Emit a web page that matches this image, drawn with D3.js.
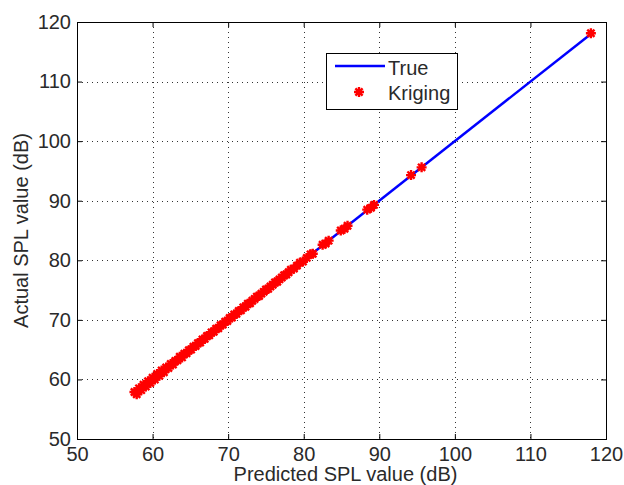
<!DOCTYPE html>
<html>
<head>
  <meta charset="utf-8">
  <style>
    body { margin: 0; background: #fff; }
    svg text { font-family: "Liberation Sans", Arial, sans-serif; fill: #2a2a2a; }
    .tick text { font-size: 20px; }
    .grid line { stroke: #333; stroke-width: 1px; stroke-dasharray: 1,4; }
    .axis path, .axis line { stroke: #000; }
  </style>
</head>
<body>
<script src="https://cdn.jsdelivr.net/npm/d3@7"></script>
<script>
  // values
  var predicted = [57.6, 57.9, 58.2, 58.5, 58.8, 59.1, 59.4, 59.7, 60.0, 60.3, 60.6, 60.9,
    61.2, 61.5, 61.8, 62.1, 62.4, 62.7, 63.0, 63.3, 63.6, 63.9, 64.2, 64.5, 64.8, 65.1,
    65.4, 65.7, 66.0, 66.3, 66.6, 66.9, 67.2, 67.5, 67.8, 68.1, 68.4, 68.7, 69.0, 69.3,
    69.6, 69.9, 70.2, 70.5, 70.8, 71.1, 71.4, 71.7, 72.0, 72.3, 72.6, 72.9, 73.2, 73.5,
    73.8, 74.1, 74.4, 74.7, 75.0, 75.3, 75.6, 75.9, 76.2, 76.5, 76.8, 77.1, 77.4, 77.7,
    78.0, 78.3, 78.7, 79.1, 79.5, 79.9, 80.4, 80.9, 81.2, 82.5, 82.9, 83.3, 84.9, 85.4,
    85.8, 88.4, 88.9, 89.3, 94.2, 95.6, 118.0];
  var actual = [57.9, 57.5, 58.5, 58.2, 59.1, 58.8, 59.7, 59.4, 60.3, 60.0, 60.9, 60.6,
    61.5, 61.2, 62.0, 61.9, 62.6, 62.5, 63.1, 63.2, 63.8, 63.7, 64.3, 64.4, 64.9, 65.0,
    65.5, 65.6, 66.1, 66.2, 66.7, 66.8, 67.3, 67.4, 67.9, 68.0, 68.5, 68.6, 69.1, 69.2,
    69.7, 69.8, 70.3, 70.4, 70.9, 71.0, 71.5, 71.6, 72.1, 72.2, 72.7, 72.8, 73.2, 73.5,
    73.9, 74.0, 74.4, 74.7, 75.1, 75.2, 75.6, 75.9, 76.3, 76.4, 76.8, 77.1, 77.5, 77.6,
    78.0, 78.4, 78.6, 79.1, 79.6, 79.8, 80.4, 81.0, 81.1, 82.6, 82.8, 83.3, 85.0, 85.3,
    85.8, 88.5, 88.8, 89.3, 94.3, 95.6, 118.1];
  var trueLine = [57.5, 118.0];
  var xTicks = [50, 60, 70, 80, 90, 100, 110, 120];
  var yTicks = [50, 60, 70, 80, 90, 100, 110, 120];

  var W = 624, H = 485;
  var pLeft = 77, pRight = 606, pTop = 22, pBottom = 439;

  var svg = d3.select("body").append("svg")
      .attr("width", W)
      .attr("height", H);

  var x = d3.scaleLinear().domain([50, 120]).range([pLeft, pRight]);
  var y = d3.scaleLinear().domain([50, 120]).range([pBottom, pTop]);

  // dotted grid
  var grid = svg.append("g").classed("grid", true);
  grid.selectAll("line.v").data(xTicks.slice(1, -1)).enter().append("line")
      .attr("x1", d => Math.round(x(d)) + 0.5).attr("x2", d => Math.round(x(d)) + 0.5)
      .attr("y1", pTop).attr("y2", pBottom);
  grid.selectAll("line.h").data(yTicks.slice(1, -1)).enter().append("line")
      .attr("y1", d => Math.round(y(d)) + 0.5).attr("y2", d => Math.round(y(d)) + 0.5)
      .attr("x1", pLeft).attr("x2", pRight);

  // axes, ticks pointing inward on all four sides
  svg.append("g").classed("axis", true)
      .attr("transform", "translate(0," + pBottom + ")")
      .call(d3.axisBottom(x).tickValues(xTicks).tickSize(-5).tickPadding(9).tickSizeOuter(0))
      .selectAll(".tick text").attr("y", 8).attr("dy", "0.71em");
  svg.append("g").classed("axis", true)
      .attr("transform", "translate(0," + pTop + ")")
      .call(d3.axisTop(x).tickValues(xTicks).tickSize(-5).tickFormat("").tickSizeOuter(0));
  svg.append("g").classed("axis", true)
      .attr("transform", "translate(" + pLeft + ",0)")
      .call(d3.axisLeft(y).tickValues(yTicks).tickSize(-5).tickPadding(6).tickSizeOuter(0))
      .selectAll(".tick text").attr("x", -6);
  svg.append("g").classed("axis", true)
      .attr("transform", "translate(" + pRight + ",0)")
      .call(d3.axisRight(y).tickValues(yTicks).tickSize(-5).tickFormat("").tickSizeOuter(0));

  svg.selectAll(".axis .domain").remove();
  svg.append("rect")
      .attr("x", pLeft + 0.5).attr("y", pTop + 0.5)
      .attr("width", pRight - pLeft).attr("height", pBottom - pTop)
      .style("fill", "none").style("stroke", "#000").style("stroke-width", 1);

  // axis titles
  svg.append("text")
      .attr("x", (pLeft + pRight) / 2 + 4).attr("y", 481)
      .style("text-anchor", "middle").style("font-size", "20px")
      .text("Predicted SPL value (dB)");
  svg.append("text")
      .attr("transform", "translate(28," + ((pTop + pBottom) / 2) + ") rotate(-90)")
      .style("text-anchor", "middle").style("font-size", "20px")
      .text("Actual SPL value (dB)");

  // True line
  var line = d3.line().x(d => x(d)).y(d => y(d));
  svg.append("path")
      .attr("d", line(trueLine))
      .style("fill", "none").style("stroke", "#0000ff").style("stroke-width", 2.5);

  // Kriging markers (asterisk)
  function star(r) {
    var a = r * 0.72;
    return "M" + (-r) + ",0H" + r + "M0," + (-r) + "V" + r +
      "M" + (-a) + "," + (-a) + "L" + a + "," + a +
      "M" + (-a) + "," + a + "L" + a + "," + (-a);
  }
  svg.append("g").selectAll("path")
      .data(predicted)
    .enter().append("path")
      .attr("transform", (d, i) => "translate(" + x(d) + "," + y(actual[i]) + ")")
      .attr("d", star(5))
      .style("fill", "none").style("stroke", "#ff0000").style("stroke-width", 2.4);

  // legend
  var lg = svg.append("g");
  lg.append("rect")
      .attr("x", 326.5).attr("y", 53.5).attr("width", 131).attr("height", 56)
      .style("fill", "#fff").style("stroke", "#000");
  lg.append("line")
      .attr("x1", 335).attr("x2", 385).attr("y1", 66).attr("y2", 66)
      .style("stroke", "#0000ff").style("stroke-width", 2.5);
  lg.append("path")
      .attr("transform", "translate(359,92)")
      .attr("d", star(5))
      .style("fill", "none").style("stroke", "#ff0000").style("stroke-width", 2.4);
  lg.append("text").attr("x", 388).attr("y", 75).style("font-size", "20px").text("True");
  lg.append("text").attr("x", 388).attr("y", 100).style("font-size", "20px").text("Kriging");
</script>
</body>
</html>
